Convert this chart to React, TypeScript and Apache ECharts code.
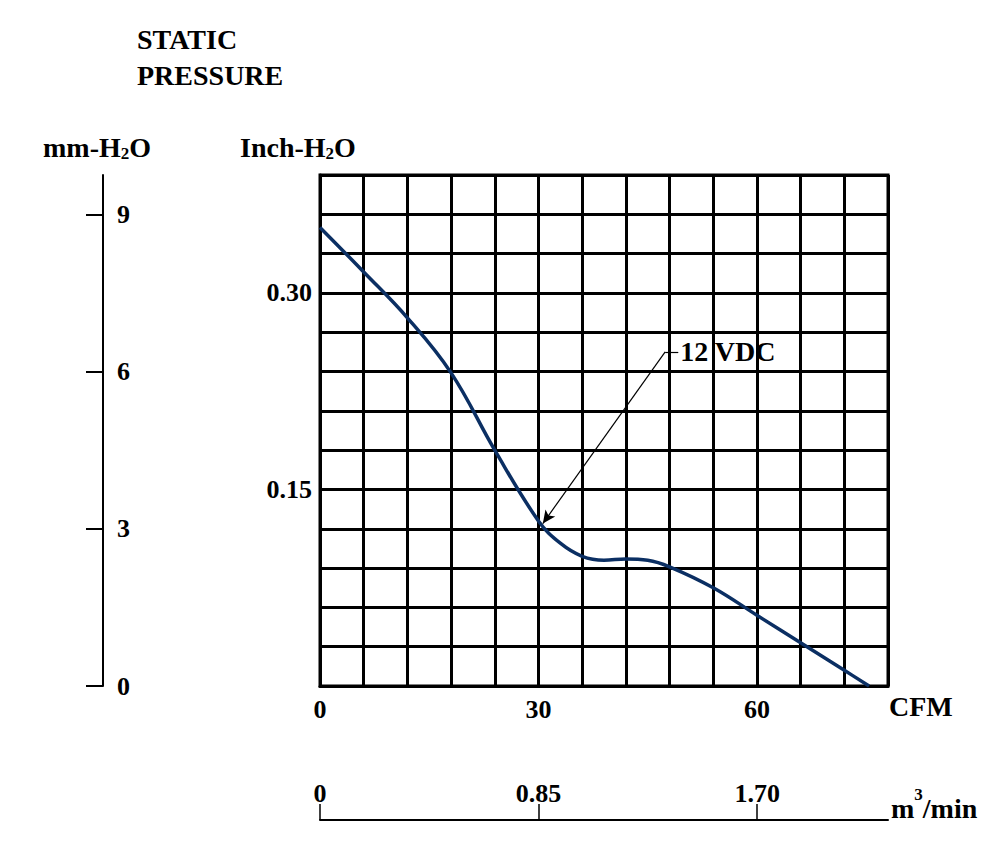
import * as echarts from 'echarts';
import { useEffect, useRef } from 'react';

// curve (CFM vs inch H2O)
const cfm = [0, 6, 12, 18, 24, 30, 33, 36, 39, 42, 45, 48, 54, 60, 66, 72, 75.4];
const inchH2O = [0.350, 0.316, 0.281, 0.239, 0.180, 0.126, 0.109, 0.099, 0.096, 0.097, 0.096, 0.091, 0.075, 0.054, 0.033, 0.012, 0];

const cfmLabels = [0, 30, 60];
const inchLabels = [0.15, 0.30];
const mmLabels = [0, 3, 6, 9];
const m3Labels = [0, 0.85, 1.70];

const CFM_MAX = 78;
const INCH_MAX = 0.39;
const MM_MAX = 9.75;
const M3_PER_CFM = 0.0283168;

// annotation: leader start / arrow tip, in data coords
const annStart = [47.4, 0.255];
const annTip = [30.6, 0.124];
const annLabel = '12 VDC';

const FONT = 'Liberation Serif, Times New Roman, serif';
const BLUE = '#0b2f63';

const App = () => {
    const divRef = useRef<HTMLDivElement>(null);

    useEffect(() => {
        const chart = echarts.init(divRef.current!, null, { renderer: 'svg' });
        const txt = { fontFamily: FONT, fontWeight: 'bold' as const, fontSize: 26, color: '#000' };
        const big = { fontFamily: FONT, fontWeight: 'bold' as const, fontSize: 28, color: '#000' };
        const gtxt = { fontFamily: FONT, fontWeight: 'bold', fontSize: 28, fill: '#000' };

        chart.setOption({
            animation: false,
            grid: {
                left: 320, top: 175, width: 568, height: 511,
                show: true, borderColor: '#000', borderWidth: 3
            },
            xAxis: [
                {
                    type: 'value', min: 0, max: CFM_MAX, interval: 6, position: 'bottom',
                    axisLine: { show: true, onZero: false, lineStyle: { color: '#000', width: 3 } },
                    axisTick: { show: false },
                    splitLine: { show: true, lineStyle: { color: '#000', width: 3 } },
                    axisLabel: { ...txt, margin: 10, customValues: cfmLabels }
                },
                {
                    type: 'value', min: 0, max: CFM_MAX * M3_PER_CFM, position: 'bottom', offset: 134,
                    axisLine: { show: true, onZero: false, lineStyle: { color: '#000', width: 2 } },
                    axisTick: { show: true, inside: true, length: 16, customValues: m3Labels, lineStyle: { color: '#000', width: 1.5 } },
                    splitLine: { show: false },
                    axisLabel: {
                        ...txt, inside: true, margin: 14, customValues: m3Labels,
                        formatter: (v: number) => (v === 0 ? '0' : v.toFixed(2))
                    }
                }
            ],
            yAxis: [
                {
                    type: 'value', min: 0, max: INCH_MAX, interval: 0.03, position: 'left',
                    axisLine: { show: true, onZero: false, lineStyle: { color: '#000', width: 3 } },
                    axisTick: { show: false },
                    splitLine: { show: true, lineStyle: { color: '#000', width: 3 } },
                    axisLabel: { ...txt, margin: 8, customValues: inchLabels, formatter: (v: number) => v.toFixed(2) }
                },
                {
                    type: 'value', min: 0, max: MM_MAX, position: 'left', offset: 217,
                    axisLine: { show: true, onZero: false, lineStyle: { color: '#000', width: 2 } },
                    axisTick: { show: true, length: 17, customValues: mmLabels, lineStyle: { color: '#000', width: 2 } },
                    splitLine: { show: false },
                    axisLabel: { ...txt, inside: true, margin: 14, customValues: mmLabels }
                }
            ],
            series: [
                {
                    type: 'line',
                    xAxisIndex: 0,
                    yAxisIndex: 0,
                    data: cfm.map((c, i) => [c, inchH2O[i]]),
                    smooth: 0.4,
                    showSymbol: false,
                    lineStyle: { color: BLUE, width: 3.5 },
                    silent: true,
                    markLine: {
                        silent: true,
                        symbol: ['none', 'arrow'],
                        symbolSize: [9, 13],
                        lineStyle: { color: '#000', width: 1.2, type: 'solid' },
                        label: { show: false },
                        emphasis: { disabled: true },
                        data: [
                            [
                                { coord: annStart, symbol: 'none' },
                                { coord: annTip, symbol: 'arrow' }
                            ],
                            [
                                { coord: annStart, symbol: 'none', label: { show: true, position: 'end', distance: 2, formatter: annLabel, ...big } },
                                { coord: [annStart[0] + 1.8, annStart[1]], symbol: 'none', label: { show: true, position: 'end', distance: 2, formatter: annLabel, ...big } }
                            ]
                        ]
                    }
                }
            ],
            graphic: [
                { type: 'text', x: 137, y: 39, style: { ...gtxt, text: 'STATIC', verticalAlign: 'middle' } },
                { type: 'text', x: 137, y: 75, style: { ...gtxt, text: 'PRESSURE', verticalAlign: 'middle' } },
                {
                    type: 'text', x: 43, y: 147,
                    style: {
                        text: '{a|mm-H}{b|2}{a|O}', verticalAlign: 'middle',
                        rich: {
                            a: { ...gtxt, lineHeight: 30, verticalAlign: 'middle' },
                            b: { ...gtxt, fontSize: 17, lineHeight: 16, verticalAlign: 'bottom' }
                        }
                    }
                },
                {
                    type: 'text', x: 240, y: 147,
                    style: {
                        text: '{a|Inch-H}{b|2}{a|O}', verticalAlign: 'middle',
                        rich: {
                            a: { ...gtxt, lineHeight: 30, verticalAlign: 'middle' },
                            b: { ...gtxt, fontSize: 17, lineHeight: 16, verticalAlign: 'bottom' }
                        }
                    }
                },
                { type: 'text', x: 889, y: 706, style: { ...gtxt, text: 'CFM', verticalAlign: 'middle' } },
                {
                    type: 'text', x: 891, y: 808,
                    style: {
                        text: '{a|m}{b|3}{a|/min}', verticalAlign: 'middle',
                        rich: {
                            a: { ...gtxt, lineHeight: 44, verticalAlign: 'middle' },
                            b: { ...gtxt, fontSize: 17, lineHeight: 16, verticalAlign: 'top' }
                        }
                    }
                }
            ]
        });

        return () => {
            chart.dispose();
        };
    }, []);

    return (
        <div
            ref={divRef}
            style={{ position: 'fixed', left: 0, top: 0, width: '1000px', height: '855px', background: '#fff' }}
        ></div>
    );
};

export default App;
